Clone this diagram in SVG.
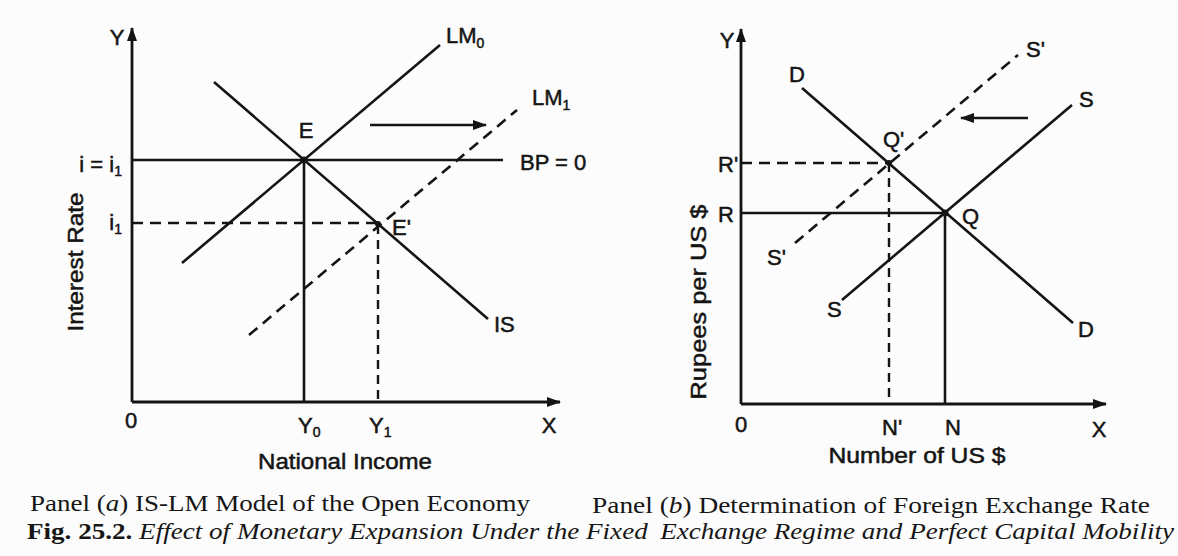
<svg xmlns="http://www.w3.org/2000/svg" width="1178" height="556" viewBox="0 0 1178 556">
<style>
.ln{stroke:#141414;stroke-width:2.6;fill:none;stroke-linecap:butt}
.ax{stroke:#141414;stroke-width:2.8;fill:none}
.ds{stroke:#141414;stroke-width:2.6;fill:none;stroke-dasharray:11 7}
.dsv{stroke:#141414;stroke-width:2.4;fill:none;stroke-dasharray:9 6}
.lb{font-family:"Liberation Sans",Arial,sans-serif;font-size:22px;fill:#141414;stroke:#141414;stroke-width:0.5}
.sub{font-size:14px}
.cap{font-family:"Liberation Serif","Times New Roman",serif;font-size:24px;fill:#161616}
.dot{fill:#141414}
</style>
<defs>
<marker id="ah" viewBox="0 0 14 10" refX="13" refY="5" markerWidth="14" markerHeight="10" markerUnits="userSpaceOnUse" orient="auto">
<path d="M0,0 L14,5 L0,10 z" fill="#141414"/>
</marker>
</defs>
<rect width="1178" height="556" fill="#fcfcfc"/>

<g id="panel-a">
<g id="axes-a">
<path class="ax" d="M132,402 V28" marker-end="url(#ah)"/>
<path class="ax" d="M132,402 H560" marker-end="url(#ah)"/>
</g>
<g id="connectors-a">
<path id="bp" class="ln" d="M132,160 H503"/>
<path id="lm0" class="ln" d="M182,263 L440,45"/>
<path id="is" class="ln" d="M214,82 L488,319"/>
<path id="lm1" class="ds" d="M249,335 L517,110"/>
<path id="i1-line" class="ds" d="M132,223 H378"/>
<path id="y0-line" class="ln" d="M304,160 V402"/>
<path id="y1-line" class="dsv" d="M378,225 V402"/>
<path id="shift-a" class="ln" d="M370,125 H486" stroke-width="3" marker-end="url(#ah)"/>
</g>
<g id="point-E"><circle class="dot" cx="304" cy="160" r="3.5"/><text class="lb" x="306" y="138" text-anchor="middle">E</text></g>
<g id="point-E1"><circle class="dot" cx="378" cy="224" r="3"/><text class="lb" x="392" y="235">E'</text></g>
<g id="labels-a">
<text class="lb" x="117" y="45" text-anchor="middle">Y</text>
<text class="lb" x="122" y="172" text-anchor="end">i = i<tspan class="sub" dy="4">1</tspan></text>
<text class="lb" x="122" y="230" text-anchor="end">i<tspan class="sub" dy="4">1</tspan></text>
<text class="lb" x="446" y="43">LM<tspan class="sub" dy="5">0</tspan></text>
<text class="lb" x="532" y="105">LM<tspan class="sub" dy="5">1</tspan></text>
<text class="lb" x="520" y="170">BP = 0</text>
<text class="lb" x="494" y="332">IS</text>
<text class="lb" x="131" y="428" text-anchor="middle">0</text>
<text class="lb" x="298" y="433">Y<tspan class="sub" dy="4">0</tspan></text>
<text class="lb" x="369" y="433">Y<tspan class="sub" dy="4">1</tspan></text>
<text class="lb" x="549" y="433" text-anchor="middle">X</text>
<text class="lb" x="345" y="469" text-anchor="middle" textLength="174" lengthAdjust="spacingAndGlyphs">National Income</text>
<text class="lb" transform="translate(83,262) rotate(-90)" text-anchor="middle" textLength="139" lengthAdjust="spacingAndGlyphs">Interest Rate</text>
</g>
</g>

<g id="panel-b">
<g id="axes-b">
<path class="ax" d="M741,404 V29" marker-end="url(#ah)"/>
<path class="ax" d="M741,404 H1106" marker-end="url(#ah)"/>
</g>
<g id="connectors-b">
<path id="dd" class="ln" d="M802,88 L1073,323"/>
<path id="ss" class="ln" d="M842,300 L1072,105"/>
<path id="ss1" class="ds" d="M795,243 L1018,55"/>
<path id="r1-line" class="ds" d="M741,163 H889"/>
<path id="r-line" class="ln" d="M741,213 H945"/>
<path id="n1-line" class="dsv" d="M889,163 V404"/>
<path id="n-line" class="ln" d="M945,213 V404"/>
<path id="shift-b" class="ln" d="M1028,118 H961" stroke-width="3" marker-end="url(#ah)"/>
</g>
<g id="point-Q"><circle class="dot" cx="945" cy="213" r="3.5"/><text class="lb" x="962" y="224">Q</text></g>
<g id="point-Q1"><circle class="dot" cx="889" cy="163" r="3"/><text class="lb" x="883" y="147">Q'</text></g>
<g id="labels-b">
<text class="lb" x="727" y="48" text-anchor="middle">Y</text>
<text class="lb" x="797" y="82" text-anchor="middle">D</text>
<text class="lb" x="718" y="172">R'</text>
<text class="lb" x="718" y="222">R</text>
<text class="lb" x="1026" y="57">S'</text>
<text class="lb" x="1079" y="107">S</text>
<text class="lb" x="767" y="265">S'</text>
<text class="lb" x="827" y="317">S</text>
<text class="lb" x="1078" y="337">D</text>
<text class="lb" x="741" y="432" text-anchor="middle">0</text>
<text class="lb" x="882" y="435">N'</text>
<text class="lb" x="945" y="435">N</text>
<text class="lb" x="1099" y="437" text-anchor="middle">X</text>
<text class="lb" x="917" y="463" text-anchor="middle" textLength="177" lengthAdjust="spacingAndGlyphs">Number of US $</text>
<text class="lb" transform="translate(706,302) rotate(-90)" text-anchor="middle" textLength="195" lengthAdjust="spacingAndGlyphs">Rupees per US $</text>
</g>
</g>

<g id="captions">
<text class="cap" x="30" y="511" textLength="500" lengthAdjust="spacingAndGlyphs">Panel (<tspan font-style="italic">a</tspan>) IS-LM Model of the Open Economy</text>
<text class="cap" x="592" y="513" textLength="558" lengthAdjust="spacingAndGlyphs">Panel (<tspan font-style="italic">b</tspan>) Determination of Foreign Exchange Rate</text>
<text class="cap" x="27" y="539" textLength="1147" lengthAdjust="spacingAndGlyphs"><tspan font-weight="bold">Fig. 25.2.</tspan><tspan font-style="italic"> Effect of Monetary Expansion Under the Fixed </tspan><tspan font-style="italic" dx="5">Exchange Regime and Perfect Capital Mobility</tspan></text>
</g>
</svg>
